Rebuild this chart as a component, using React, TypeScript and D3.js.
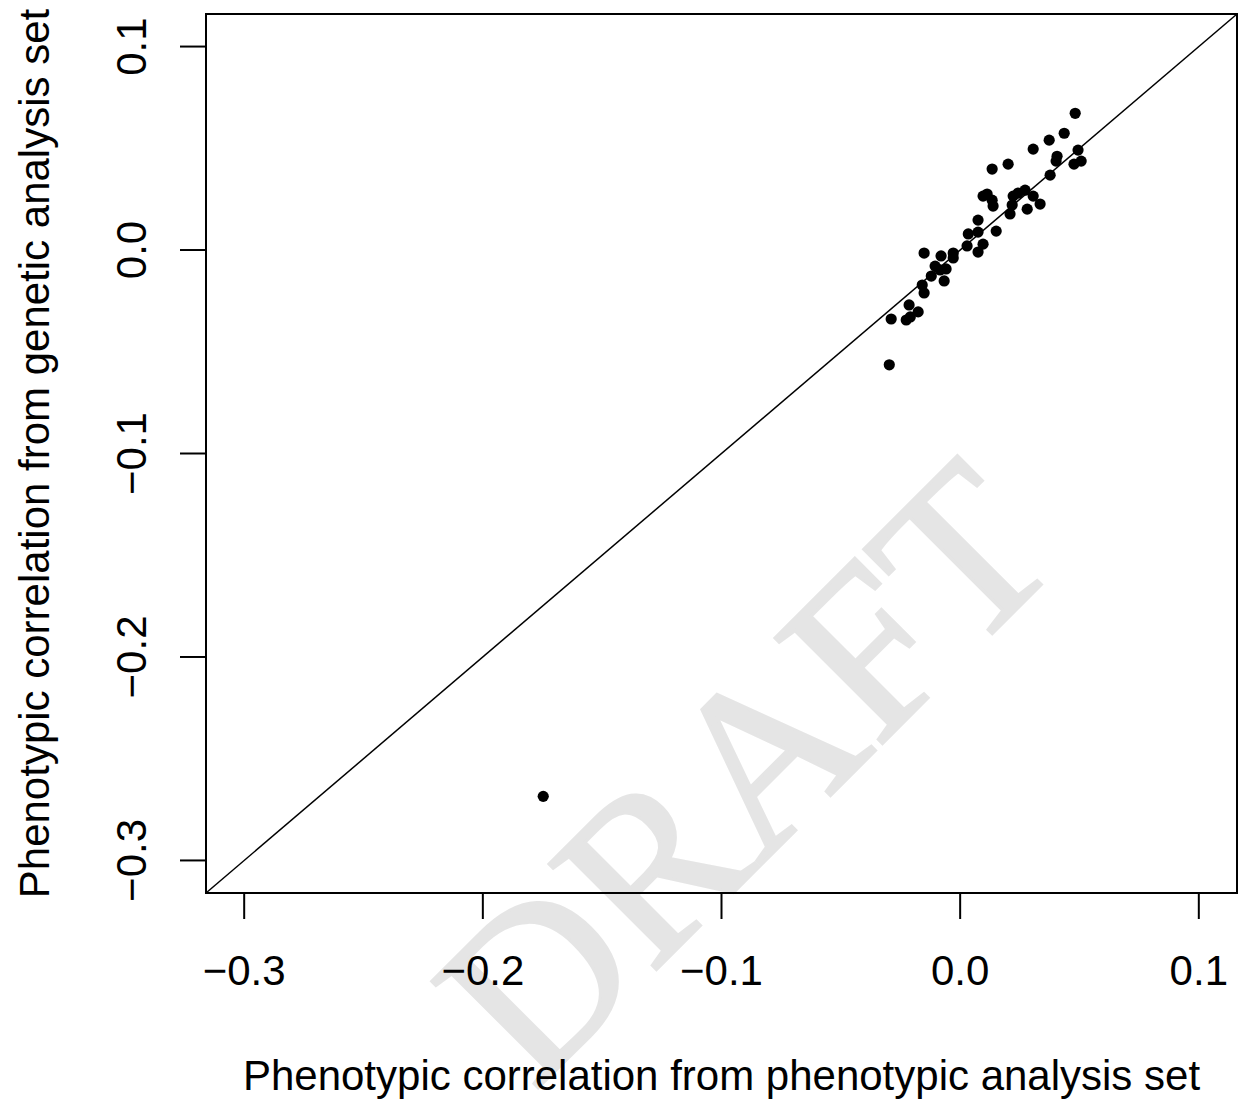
import React from "react";
import * as d3 from "d3";

const xValues = [
  0.0482, 0.0436, 0.0373, 0.0306, 0.0494, 0.0406, 0.0402, 0.0507, 0.0477, 0.0201,
  0.0134, 0.0377, 0.0272, 0.0243, 0.0222, 0.0306, 0.0113, 0.0096, 0.0134, 0.0138,
  0.0335, 0.0281, 0.0218, 0.0209, 0.0075, 0.0151, 0.0034, 0.0075, 0.0029, 0.0096,
  0.0075, -0.0151, -0.0080, -0.0029, -0.0029, -0.0105, -0.0084, -0.0059, -0.0121, -0.0067,
  -0.0159, -0.0151, -0.0214, -0.0176, -0.0289, -0.0226, -0.0209, -0.0297, -0.1747,
];
const yValues = [
  0.0672, 0.0574, 0.0540, 0.0496, 0.0491, 0.0461, 0.0437, 0.0437, 0.0422, 0.0422,
  0.0398, 0.0368, 0.0294, 0.0280, 0.0265, 0.0265, 0.0275, 0.0265, 0.0245, 0.0216,
  0.0226, 0.0201, 0.0221, 0.0177, 0.0147, 0.0093, 0.0079, 0.0088, 0.0020, 0.0029,
  -0.0010, -0.0015, -0.0029, -0.0015, -0.0039, -0.0079, -0.0098, -0.0093, -0.0128, -0.0152,
  -0.0172, -0.0211, -0.0270, -0.0304, -0.0339, -0.0344, -0.0329, -0.0564, -0.2685,
];
const ticks = [-0.3, -0.2, -0.1, 0.0, 0.1];
const tickLabels = ["\u22120.3", "\u22120.2", "\u22120.1", "0.0", "0.1"];
const xTitle = "Phenotypic correlation from phenotypic analysis set";
const yTitle = "Phenotypic correlation from genetic analysis set";
const watermark = "DRAFT";

export default function App() {
  const W = 1240, H = 1100;
  const left = 206, right = 1237, top = 14, bottom = 893;
  const lim: [number, number] = [-0.3, 0.1];
  const ext = (lim[1] - lim[0]) * 0.04;
  const x = d3.scaleLinear().domain([lim[0] - ext, lim[1] + ext]).range([left, right]);
  const y = d3.scaleLinear().domain([lim[0] - ext, lim[1] + ext]).range([bottom, top]);
  const font = "'Liberation Sans', Arial, Helvetica, sans-serif";
  const fs = 42;
  const dom = x.domain();
  return (
    <svg width={W} height={H} style={{ position: "absolute", left: 0, top: 0, background: "#fff" }}>
      <rect x={0} y={0} width={W} height={H} fill="#fff" />
      <text
        transform={`translate(800,826) rotate(-45)`}
        textAnchor="middle"
        fontFamily="'Liberation Serif', 'Times New Roman', serif"
        fontSize={230}
        fill="#e5e5e5"
        stroke="#e5e5e5"
        strokeWidth={3}
      >
        {watermark}
      </text>
      {/* diagonal y = x */}
      <line x1={x(dom[0])} y1={y(dom[0])} x2={x(dom[1])} y2={y(dom[1])} stroke="#000" strokeWidth={1.5} />
      {/* box */}
      <rect x={left} y={top} width={right - left} height={bottom - top} fill="none" stroke="#000" strokeWidth={2} />
      {/* x axis */}
      <line x1={x(ticks[0])} x2={x(ticks[ticks.length - 1])} y1={bottom} y2={bottom} stroke="#000" strokeWidth={2} />
      {ticks.map((t, i) => (
        <g key={"xt" + i}>
          <line x1={x(t)} x2={x(t)} y1={bottom} y2={bottom + 26} stroke="#000" strokeWidth={2} />
          <text x={x(t)} y={985} textAnchor="middle" fontFamily={font} fontSize={fs} fill="#000">
            {tickLabels[i]}
          </text>
        </g>
      ))}
      {/* y axis */}
      <line x1={left} x2={left} y1={y(ticks[0])} y2={y(ticks[ticks.length - 1])} stroke="#000" strokeWidth={2} />
      {ticks.map((t, i) => (
        <g key={"yt" + i}>
          <line x1={left} x2={left - 26} y1={y(t)} y2={y(t)} stroke="#000" strokeWidth={2} />
          <text
            transform={`translate(146,${y(t)}) rotate(-90)`}
            textAnchor="middle"
            fontFamily={font}
            fontSize={fs}
            fill="#000"
          >
            {tickLabels[i]}
          </text>
        </g>
      ))}
      {/* points */}
      {xValues.map((v, i) => (
        <circle key={"p" + i} cx={x(v)} cy={y(yValues[i])} r={5.6} fill="#000" />
      ))}
      {/* titles */}
      <text x={(left + right) / 2} y={1090} textAnchor="middle" fontFamily={font} fontSize={fs} fill="#000">
        {xTitle}
      </text>
      <text
        transform={`translate(49,${(top + bottom) / 2}) rotate(-90)`}
        textAnchor="middle"
        fontFamily={font}
        fontSize={fs}
        fill="#000"
      >
        {yTitle}
      </text>
    </svg>
  );
}
